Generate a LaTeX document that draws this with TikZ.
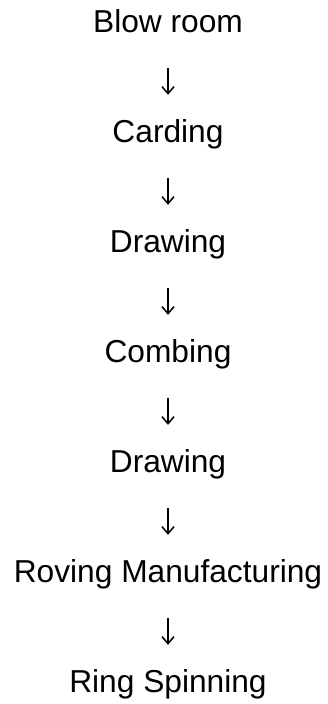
\documentclass[tikz,border=0pt]{standalone}
\usepackage{fontspec}
\setmainfont{Liberation Sans}
\usetikzlibrary{arrows.meta}
\begin{document}
\begin{tikzpicture}[x=1pt,y=1pt,
  stage/.style={inner sep=0pt, text height=23pt, text depth=0pt, anchor=base, font=\fontsize{31.7pt}{36pt}\selectfont},
  flow/.style={-{Straight Barb[length=7pt,width=12pt]}, line width=1.5pt, shorten <=35pt, shorten >=25pt}]
\useasboundingbox[fill=white] (0,0) rectangle (328,704);
\node[stage] (s1) at (168,671) {Blow room};
\node[stage] (s2) at (168,561) {Carding};
\node[stage] (s3) at (168,451) {Drawing};
\node[stage] (s4) at (168,341) {Combing};
\node[stage] (s5) at (168,231) {Drawing};
\node[stage] (s6) at (168,121) {Roving Manufacturing};
\node[stage] (s7) at (168,11) {Ring Spinning};
\foreach \a/\b in {s1/s2,s2/s3,s3/s4,s4/s5,s5/s6,s6/s7}
  \draw[flow] (\a.south) -- (\b.north);
\end{tikzpicture}
\end{document}
